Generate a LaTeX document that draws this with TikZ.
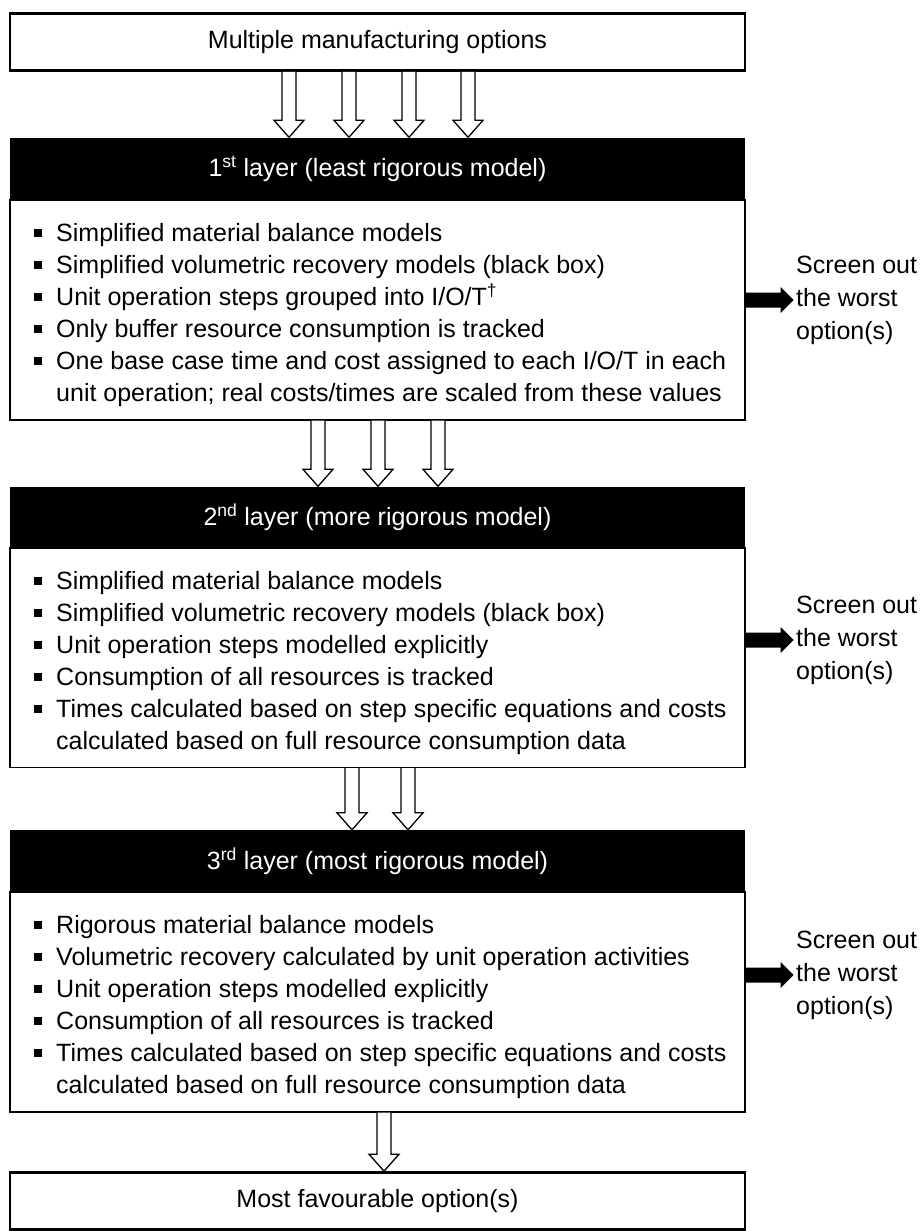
\documentclass[tikz,border=0pt]{standalone}
\usepackage{fontspec}
\setmainfont{Liberation Sans}
\usetikzlibrary{calc}
\newcommand\bul{\makebox[22pt][l]{\rule[4pt]{8pt}{8pt}}}
\newcommand\ind{\hspace*{22pt}}
\newcommand\harrow[3]{%
  \draw[hollowarrow] let \p1=(#2.south), \p2=(#3.north) in
    (#1pt-7pt,\y1) -- (#1pt-7pt,\y2+17pt) -- (#1pt-15pt,\y2+17pt) -- (#1pt,\y2)
    -- (#1pt+15pt,\y2+17pt) -- (#1pt+7pt,\y2+17pt) -- (#1pt+7pt,\y1);}
\newcommand\screenarrow[1]{%
  \fill let \p1=(#1) in
    (\x1,\y1+7.5pt) -- (\x1+35pt,\y1+7.5pt) -- (\x1+35pt,\y1+13pt) -- (\x1+48pt,\y1)
    -- (\x1+35pt,\y1-13pt) -- (\x1+35pt,\y1-7.5pt) -- (\x1,\y1-7.5pt) -- cycle;}
\begin{document}
\begin{tikzpicture}[x=1pt,y=-1pt,
  every node/.style={font=\fontsize{25}{32}\selectfont, inner sep=0pt},
  endbox/.style={draw, line width=2.6pt, minimum width=735pt, minimum height=57pt},
  header/.style={fill=black, text=white, minimum width=735pt, minimum height=62pt},
  body/.style={draw, line width=1.3pt, minimum width=735pt, minimum height=220pt},
  bodytext/.style={align=left, anchor=north west},
  screen/.style={align=left, anchor=west, font=\fontsize{25}{33}\selectfont},
  hollowarrow/.style={draw, line width=1.3pt, fill=white, line join=miter}]
\useasboundingbox (0,0) rectangle (921,1231);

\node[endbox] (top) at (377.5,42) {Multiple manufacturing options};

\node[header] (h1) at (377.5,168.5) {1\textsuperscript{st} layer (least rigorous model)};
\node[body] (b1) at (377.5,310) {};
\node[bodytext] (t1) at (34,223) {\bul Simplified material balance models\\
\bul Simplified volumetric recovery models (black box)\\
\bul Unit operation steps grouped into I/O/T\textsuperscript{\textdagger}\\
\bul Only buffer resource consumption is tracked\\
\bul One base case time and cost assigned to each I/O/T in each\\
\ind unit operation; real costs/times are scaled from these values};

\node[header] (h2) at (377.5,517.5) {2\textsuperscript{nd} layer (more rigorous model)};
\node[body] (b2) at (377.5,657.5) {};
\node[bodytext] (t2) at (34,571) {\bul Simplified material balance models\\
\bul Simplified volumetric recovery models (black box)\\
\bul Unit operation steps modelled explicitly\\
\bul Consumption of all resources is tracked\\
\bul Times calculated based on step specific equations and costs\\
\ind calculated based on full resource consumption data};

\node[header] (h3) at (377.5,861) {3\textsuperscript{rd} layer (most rigorous model)};
\node[body] (b3) at (377.5,1002) {};
\node[bodytext] (t3) at (34,915) {\bul Rigorous material balance models\\
\bul Volumetric recovery calculated by unit operation activities\\
\bul Unit operation steps modelled explicitly\\
\bul Consumption of all resources is tracked\\
\bul Times calculated based on step specific equations and costs\\
\ind calculated based on full resource consumption data};

\node[endbox] (bot) at (377.5,1201) {Most favourable option(s)};

\harrow{289}{top}{h1}
\harrow{349}{top}{h1}
\harrow{409}{top}{h1}
\harrow{468}{top}{h1}
\harrow{318}{b1}{h2}
\harrow{378}{b1}{h2}
\harrow{438}{b1}{h2}
\harrow{352}{b2}{h3}
\harrow{408}{b2}{h3}
\harrow{384}{b3}{bot}

\coordinate (a1) at (b1.east |- 0,300);
\coordinate (a2) at (b2.east |- 0,640);
\coordinate (a3) at (b3.east |- 0,975);
\screenarrow{a1}
\screenarrow{a2}
\screenarrow{a3}
\node[screen] (s1) at (796,300) {Screen out\\the worst\\option(s)};
\node[screen] (s2) at (796,640) {Screen out\\the worst\\option(s)};
\node[screen] (s3) at (796,975) {Screen out\\the worst\\option(s)};
\end{tikzpicture}
\end{document}
